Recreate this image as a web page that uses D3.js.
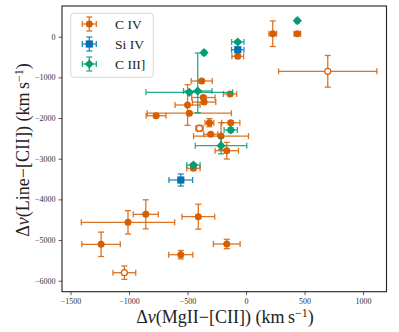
<!DOCTYPE html>
<html><head><meta charset="utf-8">
<script src="https://cdn.jsdelivr.net/npm/d3@7"></script>
<style>body{margin:0;background:#fff}svg{display:block}text{font-family:"Liberation Serif","DejaVu Serif",serif}</style>
</head><body><svg id="c" width="399" height="332"></svg>
<script>
// C IV
const civX    = [228, 438, -71, 698, -379, -137, -365, -359, -500, -485, -769, -398, -313, -302, -131, -214, -165, -450, -857, -1009, -408, -1239, -558, -165, -1040];
const civY    = [74, 74, -482, -851, -1089, -1409, -1495, -1608, -1680, -1880, -1943, -2253, -2114, -2400, -2114, -2444, -2803, -3236, -4367, -4564, -4426, -5105, -5360, -5097, -5803];
const civXerr = [33, 28, 50, 420, 90, 57, 100, 100, 107, 360, 85, 31, 38, 60, 78, 235, 100, 57, 107, 399, 140, 164, 103, 114, 97];
const civYerr = [315, 20, 25, 389, 30, 25, 40, 40, 500, 40, 40, 75, 100, 30, 40, 330, 205, 40, 357, 287, 307, 300, 103, 115, 164];
const civOpen = [0,0,0,1,0,0,0,0,0,0,0,1,0,0,0,0,0,0,0,0,0,0,0,0,1];
// Si IV
const siivX    = [-71, -558];
const siivY    = [-320, -3524];
const siivXerr = [53, 101];
const siivYerr = [30, 148];
// C III]
const ciiiX      = [438, -71, -359, -485, -413, -131, -214, -450];
const ciiiY      = [393, -130, -393, -1367, -1335, -2294, -2680, -3155];
const ciiiXerr   = [15, 53, 15, 370, 122, 57, 220, 57];
const ciiiYerrLo = [15, 30, 15, 30, 534, 60, 200, 40];
const ciiiYerrHi = [15, 30, 15, 30, 935, 60, 200, 40];

const xTicks = [-1500, -1000, -500, 0, 500, 1000];
const yTicks = [0, -1000, -2000, -3000, -4000, -5000, -6000];

const C_ORANGE = "#d55e00", C_BLUE = "#0173b2", C_GREEN = "#029e73";

const svg = d3.select("#c");
const L = 62, R = 386.5, T = 6, B = 291.7;
const x = d3.scaleLinear().domain([-1573, 1200]).range([L, R]);
const y = d3.scaleLinear().domain([755, -6270]).range([T, B]);

const fmt = d => d < 0 ? "\u2212" + Math.abs(d) : String(d);

// axes
const gx = svg.append("g").attr("transform", `translate(0,${B})`)
  .call(d3.axisBottom(x).tickValues(xTicks).tickFormat(fmt).tickSize(3.5).tickPadding(3));
const gy = svg.append("g").attr("transform", `translate(${L},0)`)
  .call(d3.axisLeft(y).tickValues(yTicks).tickFormat(fmt).tickSize(3.5).tickPadding(3));
[gx, gy].forEach(g => {
  g.select(".domain").remove();
  g.selectAll("text").attr("font-family", "Liberation Serif, serif").attr("font-size", 8).attr("fill", "#333");
  g.selectAll("line").attr("stroke", "#333").attr("stroke-width", 0.8);
});

function build(xs, ys, xe, ylo, yhi, open) {
  return xs.map((v, i) => ({x: v, y: ys[i], xe: xe[i], ylo: ylo[i], yhi: yhi[i], open: open ? open[i] : 0}));
}
const civ = build(civX, civY, civXerr, civYerr, civYerr, civOpen);
const siiv = build(siivX, siivY, siivXerr, siivYerr, siivYerr, null);
const ciii = build(ciiiX, ciiiY, ciiiXerr, ciiiYerrLo, ciiiYerrHi, null);

const plot = svg.append("g");
const cap = 3;
function drawSeries(data, color, shape) {
  const g = plot.append("g");
  data.forEach(d => {
    const cx = x(d.x), cy = y(d.y);
    const x0 = x(d.x - d.xe), x1 = x(d.x + d.xe);
    const yt = y(d.y + d.yhi), yb = y(d.y - d.ylo);
    const eb = g.append("g").attr("stroke", color).attr("stroke-width", 1.3).attr("opacity", 0.85);
    eb.append("line").attr("x1", x0).attr("x2", x1).attr("y1", cy).attr("y2", cy);
    eb.append("line").attr("x1", cx).attr("x2", cx).attr("y1", yt).attr("y2", yb);
    [x0, x1].forEach(xx => eb.append("line").attr("x1", xx).attr("x2", xx).attr("y1", cy - cap).attr("y2", cy + cap));
    [yt, yb].forEach(yy => eb.append("line").attr("x1", cx - cap).attr("x2", cx + cap).attr("y1", yy).attr("y2", yy));
  });
  data.forEach(d => marker(g, x(d.x), y(d.y), color, shape, d.open));
}
function marker(g, cx, cy, color, shape, open) {
  if (shape === "circle") {
    g.append("circle").attr("cx", cx).attr("cy", cy).attr("r", open ? 3 : 3.5)
      .attr("fill", open ? "#fff" : color).attr("stroke", color).attr("stroke-width", open ? 1.2 : 0);
  } else if (shape === "square") {
    g.append("rect").attr("x", cx - 3.6).attr("y", cy - 3.6).attr("width", 7.2).attr("height", 7.2).attr("fill", color);
  } else {
    const s = 4.6;
    g.append("path").attr("d", `M${cx},${cy - s}L${cx + s},${cy}L${cx},${cy + s}L${cx - s},${cy}Z`).attr("fill", color);
  }
}
drawSeries(civ, C_ORANGE, "circle");
drawSeries(siiv, C_BLUE, "square");
drawSeries(ciii, C_GREEN, "diamond");

// frame
svg.append("rect").attr("x", L).attr("y", T).attr("width", R - L).attr("height", B - T)
  .attr("fill", "none").attr("stroke", "#222").attr("stroke-width", 1.1);

// legend
const legendNames = ["C IV", "Si IV", "C III]"];
const legendColors = [C_ORANGE, C_BLUE, C_GREEN];
const legendShapes = ["circle", "square", "diamond"];
const lg = svg.append("g");
lg.append("rect").attr("x", 70.7).attr("y", 13.3).attr("width", 82.6).attr("height", 64).attr("rx", 3)
  .attr("fill", "#fff").attr("fill-opacity", 0.85).attr("stroke", "#ccc").attr("stroke-width", 0.8);
legendNames.forEach((n, i) => {
  const cx = 89.3, cy = 24 + i * 20;
  const eb = lg.append("g").attr("stroke", legendColors[i]).attr("stroke-width", 1.3).attr("opacity", 0.85);
  eb.append("line").attr("x1", cx - 7).attr("x2", cx + 7).attr("y1", cy).attr("y2", cy);
  eb.append("line").attr("x1", cx).attr("x2", cx).attr("y1", cy - 7).attr("y2", cy + 7);
  [cx - 7, cx + 7].forEach(xx => eb.append("line").attr("x1", xx).attr("x2", xx).attr("y1", cy - cap).attr("y2", cy + cap));
  [cy - 7, cy + 7].forEach(yy => eb.append("line").attr("x1", cx - cap).attr("x2", cx + cap).attr("y1", yy).attr("y2", yy));
  marker(lg, cx, cy, legendColors[i], legendShapes[i], 0);
  lg.append("text").attr("x", 115).attr("y", cy + 4.5).attr("font-size", 13.5).attr("fill", "#222").text(n);
});

// axis labels
function label(g, pre) {
  g.append("tspan").text("\u0394");
  g.append("tspan").attr("font-style", "italic").text("v");
  g.append("tspan").text("(" + pre + "\u2212[CII]) (km\u2009s");
  g.append("tspan").attr("dy", -6.5).attr("font-size", 12).text("\u22121");
  g.append("tspan").attr("dy", 6.5).text(")");
}
const xl = svg.append("text").attr("x", 225).attr("y", 323).attr("text-anchor", "middle")
  .attr("font-size", 18).attr("fill", "#222");
label(xl, "MgII");
const yl = svg.append("text").attr("transform", "translate(29,150) rotate(-90)").attr("text-anchor", "middle")
  .attr("font-size", 18).attr("fill", "#222");
label(yl, "Line");
</script></body></html>
